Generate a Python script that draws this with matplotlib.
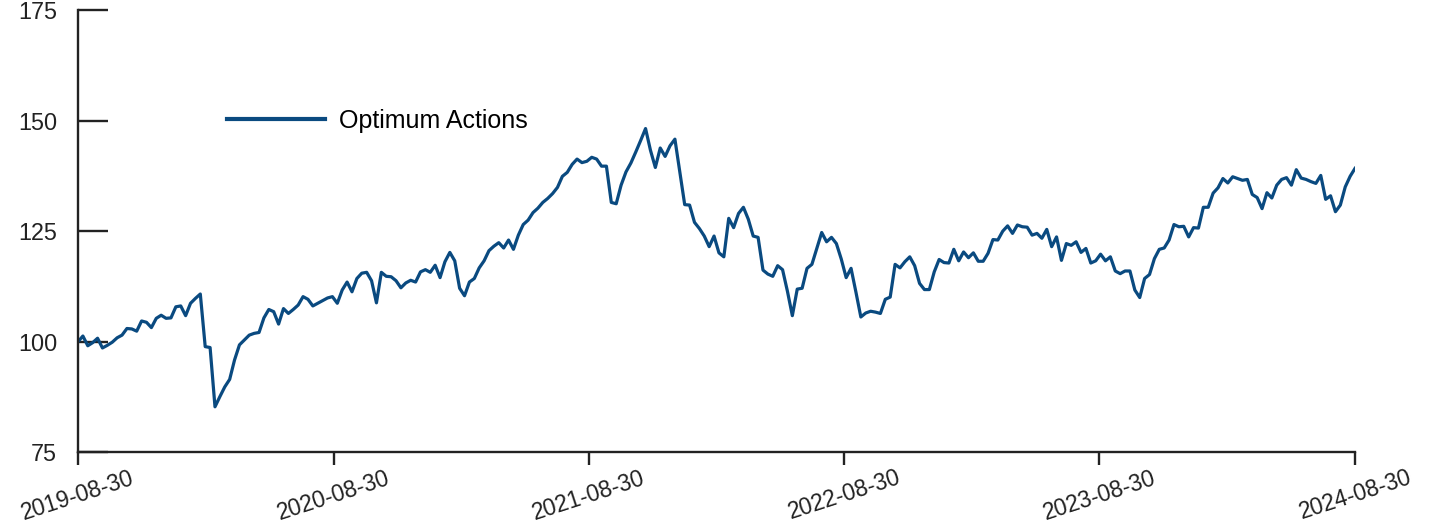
import matplotlib
matplotlib.use("Agg")
import matplotlib.pyplot as plt
import matplotlib.dates as mdates
from matplotlib.lines import Line2D
import numpy as np
import pandas as pd

start_date = "2019-08-30"
end_date = "2024-08-30"
series_name = "Optimum Actions"

# weekly values
values = [
    100.0, 101.3, 99.1, 99.8, 100.8, 98.6, 99.2, 99.9, 100.9, 101.5,
    103.0, 102.9, 102.4, 104.7, 104.4, 103.2, 105.3, 106.0, 105.3, 105.4,
    107.9, 108.1, 105.9, 108.7, 109.8, 110.8, 98.9, 98.7, 85.3, 87.6,
    89.8, 91.5, 95.9, 99.3, 100.4, 101.5, 101.9, 102.1, 105.4, 107.3,
    106.8, 104.0, 107.5, 106.4,
    107.3, 108.3, 110.2, 109.6, 108.1, 108.7, 109.3, 109.9, 110.2, 108.7,
    111.7, 113.5, 111.3, 114.3, 115.5, 115.7, 113.8, 108.8, 115.7, 114.8,
    114.7, 113.8, 112.2, 113.3, 113.9, 113.5, 115.8, 116.3, 115.7, 117.3,
    114.5, 118.1, 120.2, 118.3, 112.1, 110.4, 113.5, 114.3, 116.7, 118.3,
    120.6, 121.6, 122.4,
    121.2, 123.0, 120.9, 124.1, 126.5, 127.5, 129.2, 130.2, 131.5, 132.4,
    133.5, 134.9, 137.4, 138.3, 140.1, 141.3, 140.5, 140.8, 141.7, 141.3,
    139.7, 139.7, 131.5, 131.2, 135.4, 138.4, 140.4, 142.9, 145.5, 148.2,
    143.3, 139.4, 143.8, 141.9, 144.3, 145.8, 138.4, 131.0, 130.9, 127.0,
    125.6, 123.9, 121.5,
    123.9, 120.1, 119.2, 127.9, 125.8, 129.0, 130.4, 127.7, 123.9, 123.6,
    116.2, 115.3, 114.8, 117.2, 116.3, 111.4, 105.9, 111.9, 112.1, 116.6,
    117.5, 121.1, 124.7, 122.6, 123.6, 122.2, 118.7, 114.5, 116.6, 111.2,
    105.6, 106.5, 106.9, 106.7, 106.4, 109.6, 110.1, 117.5, 116.7, 118.1,
    119.2, 117.2,
    113.2, 111.8, 111.8, 115.8, 118.6, 117.9, 117.8, 120.9, 118.3, 120.3,
    119.0, 120.1, 118.2, 118.2, 120.0, 123.1, 123.0, 125.0, 126.2, 124.5,
    126.4, 126.0, 125.9, 124.1, 124.5, 123.4, 125.4, 121.5, 123.7, 118.4,
    122.2, 121.8, 122.6, 120.2, 121.1, 117.8, 118.3, 119.8, 118.3, 119.2,
    116.0, 115.4, 116.0, 116.0,
    111.7, 110.0, 114.3, 115.2, 118.8, 120.9, 121.2, 123.0, 126.5, 126.0,
    126.1, 123.7, 125.8, 125.7, 130.4, 130.4, 133.6, 134.8, 136.9, 135.9,
    137.3, 136.9, 136.5, 136.7, 133.3, 132.6, 130.1, 133.7, 132.5, 135.4,
    136.7, 137.1, 135.4, 138.9, 137.0, 136.7, 136.2, 135.8, 137.6, 132.2,
    133.0, 129.4, 130.9, 135.0, 137.4, 139.2,
]
y_ticks = [75, 100, 125, 150, 175]
x_ticks = ["2019-08-30", "2020-08-30", "2021-08-30", "2022-08-30", "2023-08-30", "2024-08-30"]

dates = pd.date_range(start_date, periods=len(values), freq="7D")

line_color = "#0a4a80"
axis_color = "#222222"
plt.rcParams["font.family"] = ["Liberation Sans", "DejaVu Sans"]

fig = plt.figure(figsize=(14.31, 5.26), dpi=100)
ax = fig.add_axes([0.0545, 0.14, 0.8924, 0.841])

ax.plot(dates, values, color=line_color, linewidth=2.3, solid_joinstyle="round")

ax.set_xlim(pd.Timestamp(start_date), pd.Timestamp(end_date))
ax.set_ylim(75, 175)
ax.set_yticks(y_ticks)
ax.set_xticks([pd.Timestamp(d) for d in x_ticks])
ax.xaxis.set_major_formatter(mdates.DateFormatter("%Y-%m-%d"))

for s in ["top", "right"]:
    ax.spines[s].set_visible(False)
for s in ["left", "bottom"]:
    ax.spines[s].set_color(axis_color)
    ax.spines[s].set_linewidth(1.7)

ax.tick_params(axis="y", direction="in", length=21.5, width=1.7, color=axis_color,
               pad=15, labelsize=16.8, labelcolor=axis_color)
ax.tick_params(axis="x", direction="out", length=9.5, width=1.7, color=axis_color,
               pad=0.5, labelsize=16.5, labelcolor=axis_color)
for lbl in ax.get_xticklabels():
    lbl.set_rotation(18)
    lbl.set_ha("center")

handle = Line2D([0], [0], color=line_color, linewidth=3)
ax.legend([handle], [series_name], loc="center left", bbox_to_anchor=(0.117, 0.749),
          frameon=False, fontsize=18, handlelength=3.9, handletextpad=0.56,
          borderpad=0, borderaxespad=0)

fig.savefig("out.png", dpi=100)
